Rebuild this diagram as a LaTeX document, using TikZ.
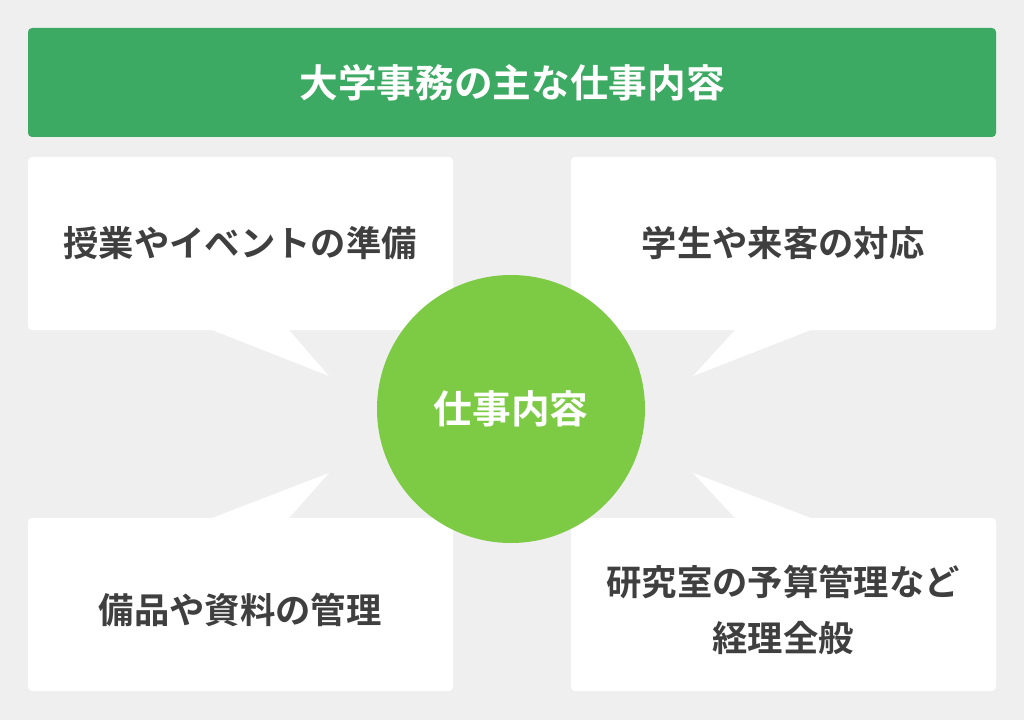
\documentclass[tikz,border=0pt]{standalone}
\usepackage{fontspec}
\setmainfont{Noto Sans CJK JP}[BoldFont={* Bold}]
\definecolor{pagegray}{HTML}{EFEFEF}
\definecolor{headgreen}{HTML}{3DAA63}
\definecolor{circgreen}{HTML}{7DCB44}
\definecolor{textgray}{HTML}{3F3F3F}

\begin{document}
\begin{tikzpicture}[x = 0.75pt, y = -0.75pt,
	card/.style = {fill = white, rounded corners = 3pt},
	cardtext/.style = {text = textgray, font = \fontsize{26.5}{42}\selectfont\bfseries, align = center}]

	% Background

	\fill [pagegray] (0, 0) rectangle (1024, 720);

	% Header

	\fill [headgreen, rounded corners = 3pt] (28, 28) rectangle (996, 137);
	\node (head) [text = white, font = \fontsize{29}{34}\selectfont\bfseries] at (512, 83) {大学事務の主な仕事内容};

	% Cards with tails

	\fill [card] (28, 157) rectangle (453, 330);
	\fill [white] (212, 330) -- (329, 376) -- (289, 330) -- cycle;
	\fill [card] (571, 157) rectangle (996, 330);
	\fill [white] (811, 330) -- (693, 376) -- (735, 330) -- cycle;
	\fill [card] (28, 518) rectangle (453, 691);
	\fill [white] (212, 518) -- (329, 473) -- (289, 518) -- cycle;
	\fill [card] (571, 518) rectangle (996, 691);
	\fill [white] (811, 518) -- (693, 473) -- (735, 518) -- cycle;

	\node (prep) [cardtext] at (240, 243) {授業やイベントの準備};
	\node (guest) [cardtext] at (783, 243) {学生や来客の対応};
	\node (stock) [cardtext] at (240, 610) {備品や資料の管理};
	\node (budget) [cardtext] at (783, 610) {研究室の予算管理など\\経理全般};

	% Centre circle

	\fill [circgreen] (511, 409) circle (134);
	\node (work) [text = white, font = \fontsize{29}{34}\selectfont\bfseries] at (511, 409) {仕事内容};

\end{tikzpicture}
\end{document}
